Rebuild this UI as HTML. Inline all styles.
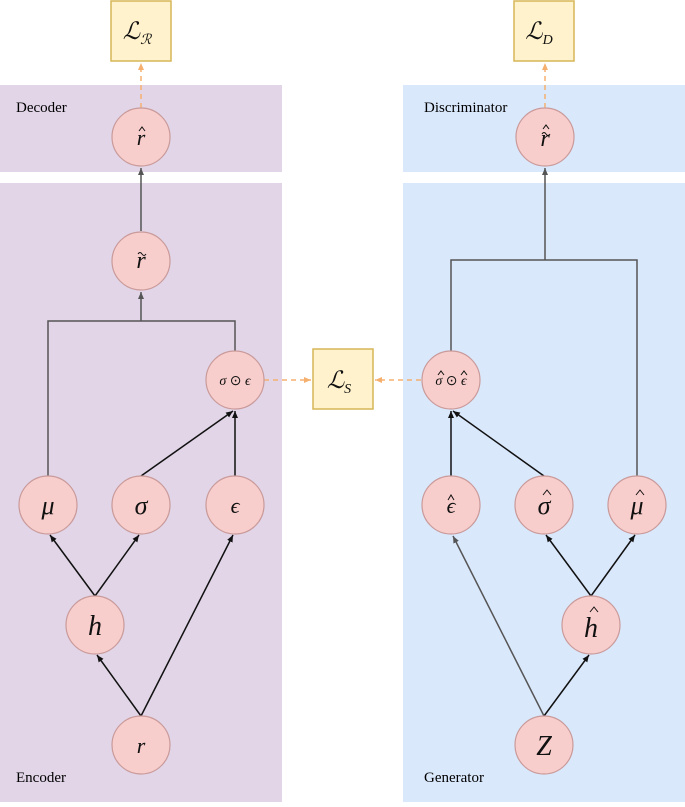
<!DOCTYPE html>
<html><head><meta charset="utf-8"><style>
html,body{margin:0;padding:0;background:#fff;}
svg text{font-family:"Liberation Serif",serif;}
</style></head><body>
<svg width="685" height="802" viewBox="0 0 685 802" xmlns="http://www.w3.org/2000/svg">
<defs>
<marker id="a" markerWidth="8" markerHeight="8" refX="7" refY="4" orient="auto" markerUnits="userSpaceOnUse"><path d="M0,1 L7,4 L0,7 Z" fill="#111"/></marker>
<marker id="g" markerWidth="8" markerHeight="8" refX="7" refY="4" orient="auto" markerUnits="userSpaceOnUse"><path d="M0,1 L7,4 L0,7 Z" fill="#555"/></marker>
<marker id="o" markerWidth="8" markerHeight="8" refX="7" refY="4" orient="auto" markerUnits="userSpaceOnUse"><path d="M0,1 L7,4 L0,7 Z" fill="#f5b070"/></marker>
</defs>
<rect x="0" y="85" width="282" height="87" fill="#e1d5e7"/>
<rect x="0" y="183" width="282" height="619" fill="#e1d5e7"/>
<rect x="403" y="85" width="282" height="87" fill="#dae8fc"/>
<rect x="403" y="183" width="282" height="619" fill="#dae8fc"/>
<text x="16" y="112" font-size="15">Decoder</text>
<text x="16" y="782" font-size="15">Encoder</text>
<text x="424" y="112" font-size="15">Discriminator</text>
<text x="424" y="782" font-size="15">Generator</text>
<g fill="#fff2cc" stroke="#d6b656" stroke-width="1.5">
<rect x="111" y="1" width="60" height="60"/>
<rect x="514" y="1" width="60" height="60"/>
<rect x="313" y="349" width="60" height="60"/>
</g>
<g stroke="#f5b070" stroke-width="1.5" stroke-dasharray="5,4" fill="none">
<line x1="141" y1="108" x2="141" y2="63" marker-end="url(#o)"/>
<line x1="545" y1="108" x2="545" y2="63" marker-end="url(#o)"/>
<line x1="264" y1="380" x2="311" y2="380" marker-end="url(#o)"/>
<line x1="421" y1="380" x2="375" y2="380" marker-end="url(#o)"/>
</g>
<g stroke="#555" stroke-width="1.5" fill="none">
<line x1="141" y1="231" x2="141" y2="168" marker-end="url(#g)"/>
<polyline points="48,476 48,321 235,321 235,351"/>
<line x1="141" y1="321" x2="141" y2="292" marker-end="url(#g)"/>
<polyline points="451,351 451,260 637,260 637,476"/>
<line x1="545" y1="260" x2="545" y2="168" marker-end="url(#g)"/>
<line x1="544" y1="716" x2="453" y2="536" marker-end="url(#g)"/>
</g>
<g stroke="#111" stroke-width="1.5" fill="none">
<line x1="141" y1="476" x2="233" y2="411" marker-end="url(#a)"/>
<line x1="235" y1="476" x2="235" y2="411" marker-end="url(#a)"/>
<line x1="95" y1="596" x2="50" y2="535" marker-end="url(#a)"/>
<line x1="95" y1="596" x2="139" y2="535" marker-end="url(#a)"/>
<line x1="141" y1="716" x2="97" y2="655" marker-end="url(#a)"/>
<line x1="141" y1="716" x2="233" y2="535" marker-end="url(#a)"/>
<line x1="451" y1="476" x2="451" y2="411" marker-end="url(#a)"/>
<line x1="544" y1="476" x2="453" y2="411" marker-end="url(#a)"/>
<line x1="591" y1="596" x2="546" y2="535" marker-end="url(#a)"/>
<line x1="591" y1="596" x2="635" y2="535" marker-end="url(#a)"/>
<line x1="544" y1="716" x2="589" y2="655" marker-end="url(#a)"/>
</g>
<g fill="#f8cecc" stroke="#c99a9a" stroke-width="1.2">
<circle cx="141" cy="137" r="29"/><circle cx="141" cy="261" r="29"/>
<circle cx="235" cy="380" r="29"/><circle cx="48" cy="505" r="29"/>
<circle cx="141" cy="505" r="29"/><circle cx="235" cy="505" r="29"/>
<circle cx="95" cy="625" r="29"/><circle cx="141" cy="745" r="29"/>
<circle cx="545" cy="137" r="29"/><circle cx="451" cy="380" r="29"/>
<circle cx="451" cy="505" r="29"/><circle cx="544" cy="505" r="29"/>
<circle cx="637" cy="505" r="29"/><circle cx="591" cy="625" r="29"/>
<circle cx="544" cy="745" r="29"/>
</g>
<g font-style="italic" text-anchor="middle" fill="#111">
<text x="137" y="39" font-size="24">ℒ<tspan font-size="14" dy="5">ℛ</tspan></text>
<text x="539" y="39" font-size="24">ℒ<tspan font-size="14" dy="5">D</tspan></text>
<text x="339" y="388" font-size="24">ℒ<tspan font-size="14" dy="5">S</tspan></text>
<text x="141" y="145" font-size="22">r</text>
<text x="141" y="268" font-size="24">r</text>
<text x="545" y="146" font-size="24">r</text>
<text x="235" y="385" font-size="14">σ <tspan font-style="normal">⊙</tspan> ϵ</text>
<text x="451" y="385" font-size="14">σ <tspan font-style="normal">⊙</tspan> ϵ</text>
<text x="48" y="514" font-size="26">μ</text>
<text x="141" y="514" font-size="26">σ</text>
<text x="235" y="513" font-size="22">ϵ</text>
<text x="95" y="635" font-size="28">h</text>
<text x="141" y="753" font-size="22">r</text>
<text x="451" y="513" font-size="22">ϵ</text>
<text x="544" y="514" font-size="26">σ</text>
<text x="637" y="514" font-size="26">μ</text>
<text x="591" y="637" font-size="28">h</text>
<text x="544" y="755" font-size="28">Z</text>
</g>
<g stroke="#111" stroke-width="1" fill="none">
<polyline points="139,131 142,127 145,131"/>
<path d="M138,254 q2,-3 4,0 t4,0"/>
<path d="M542,134 q2,-3 4,0 t4,0"/>
<polyline points="543,129 546,125 549,129"/>
<polyline points="438,375 441,371 444,375"/>
<polyline points="461,375 464,371 467,375"/>
<polyline points="448,500 451,495 454,500"/>
<polyline points="543,495 547,490 551,495"/>
<polyline points="636,495 640,490 644,495"/>
<polyline points="590,612 594,607 598,612"/>
</g>
</svg>
</body></html>
